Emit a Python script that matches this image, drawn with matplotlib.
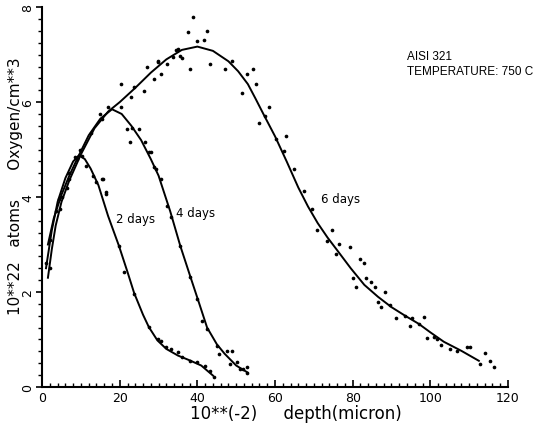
"""
Oxygen depth profiles in AISI 321 oxidised at 750 C
 - fitted curves for 2, 4 and 6 days
 - measured points scattered around each curve
"""
import matplotlib
matplotlib.use('Agg')
import matplotlib.pyplot as plt
from matplotlib.ticker import MultipleLocator

# depth in units of 10**(-2) micron, concentration in 10**22 atoms/cm**3
fit_2d_x = [1.0, 2.5, 4, 6, 8, 9.5, 11, 12.5, 14.5, 17, 19.8, 22, 23.7, 26, 27.5,
            29.7, 32, 35, 38, 41, 44]
fit_2d_y = [2.5, 3.3, 3.9, 4.4, 4.75, 4.88, 4.8, 4.6, 4.25, 3.6, 2.97, 2.42, 1.98, 1.52,
            1.26, 0.98, 0.8, 0.66, 0.56, 0.45, 0.24]

fit_4d_x = [1.5, 3, 5, 7, 9, 12, 15, 18, 20.5, 23, 25.5, 28, 30, 33, 35.6, 38.2, 40.5,
            42.5, 45, 47, 50, 53]
fit_4d_y = [3.0, 3.55, 4.05, 4.45, 4.8, 5.3, 5.65, 5.85, 5.75, 5.5, 5.2, 4.8, 4.45, 3.7,
            2.97, 2.32, 1.75, 1.25, 0.9, 0.7, 0.45, 0.3]

fit_6d_x = [1.5, 2.5, 3.5, 5, 7, 10, 13.5, 17, 20, 24, 28, 32, 36, 40, 44, 48, 50.5, 53,
            55, 57, 60, 63, 66, 68.5, 71, 73.5, 76, 79.5, 83, 86.5, 90, 93.5, 97, 100,
            103.5, 108, 112.5]
fit_6d_y = [2.3, 2.9, 3.4, 3.9, 4.35, 4.9, 5.45, 5.8, 6.0, 6.3, 6.62, 6.9, 7.1, 7.17,
            7.08, 6.86, 6.65, 6.38, 6.07, 5.75, 5.28, 4.75, 4.2, 3.8, 3.45, 3.15, 2.88,
            2.5, 2.15, 1.9, 1.68, 1.5, 1.33, 1.15, 0.95, 0.76, 0.55]

pts_2d_x = [1.0, 2.0, 3.5, 5.0, 7.0, 8.5, 9.7, 11.4, 13.0, 14.0, 15.5, 15.8, 16.5, 16.5,
            19.8, 21.1, 23.7, 27.5, 29.8, 30.5, 31.8, 33.1, 34.9, 36.1, 38.2, 39.9,
            42.0, 43.3, 44.3]
pts_2d_y = [2.6, 3.1, 3.7, 4.0, 4.5, 4.85, 5.0, 4.65, 4.44, 4.31, 4.38, 4.38, 4.06, 4.1,
            2.97, 2.42, 1.96, 1.26, 1.01, 0.97, 0.84, 0.8, 0.74, 0.63, 0.55, 0.53,
            0.44, 0.34, 0.21]

pts_4d_x = [4.5, 6.5, 9.0, 12.5, 15.0, 17.0, 21.9, 22.6, 23.2, 24.9, 26.5, 27.5, 28.0,
            28.8, 29.3, 30.5, 32.1, 33.1, 35.6, 38.2, 39.9, 41.2, 42.5, 45.0, 45.5,
            47.6, 48.3, 48.9, 50.1, 50.9, 51.7, 52.7, 52.9]
pts_4d_y = [3.75, 4.2, 4.8, 5.35, 5.75, 5.9, 5.43, 5.16, 5.45, 5.43, 5.16, 4.95, 4.95,
            4.63, 4.59, 4.38, 3.81, 3.58, 2.97, 2.32, 1.85, 1.39, 1.22, 0.86, 0.69,
            0.76, 0.48, 0.76, 0.53, 0.38, 0.38, 0.42, 0.29]

pts_6d_x = [2.0, 4.3, 6.8, 10.2, 15.3, 20.4, 20.4, 22.9, 23.7, 26.2, 27.0, 28.8, 29.8,
            29.8, 30.5, 32.3, 33.6, 34.4, 34.9, 35.6, 36.1, 37.6, 38.2, 38.9, 39.9,
            41.7, 42.5, 43.3, 47.1, 48.9, 51.4, 52.7, 54.2, 55.2, 56.0, 57.3, 58.5,
            60.3, 62.3, 62.8, 64.9, 67.4, 69.5, 70.7, 73.5, 74.6, 75.6, 76.6, 79.4,
            80.2, 80.9, 81.9, 83.0, 83.5, 84.7, 85.8, 86.5, 87.3, 88.3, 89.6, 91.1,
            93.4, 94.7, 95.4, 97.2, 98.5, 99.2, 101.0, 101.8, 102.8, 105.1, 106.9,
            109.4, 110.2, 112.7, 114.0, 115.3, 116.3]
pts_6d_y = [2.5, 3.96, 4.38, 4.86, 5.64, 5.89, 6.38, 6.1, 6.31, 6.23, 6.74, 6.48, 6.84,
            6.86, 6.59, 6.8, 6.95, 7.1, 7.12, 6.97, 6.92, 7.47, 6.69, 7.79, 7.28,
            7.31, 7.49, 6.8, 6.69, 6.86, 6.19, 6.59, 6.69, 6.38, 5.56, 5.71, 5.89,
            5.22, 4.97, 5.28, 4.59, 4.13, 3.75, 3.3, 3.07, 3.3, 2.8, 3.01, 2.95, 2.29,
            2.1, 2.69, 2.61, 2.29, 2.21, 2.1, 1.79, 1.68, 2.0, 1.73, 1.45, 1.49, 1.28,
            1.45, 1.33, 1.47, 1.03, 1.05, 1.01, 0.88, 0.8, 0.76, 0.84, 0.84, 0.48,
            0.72, 0.55, 0.42]

curve_labels = ['2 days', '4 days', '6 days']
label_x = [19.1, 34.4, 71.8]
label_y = [3.54, 3.68, 3.96]

NARROW = ['Liberation Sans']


def main():
    fig = plt.figure(figsize=(5.33, 4.31), dpi=100)
    ax = fig.add_axes([0.079, 0.1, 0.874, 0.881])

    for fx, fy in [(fit_2d_x, fit_2d_y), (fit_4d_x, fit_4d_y), (fit_6d_x, fit_6d_y)]:
        ax.plot(fx, fy, color='black', lw=1.4, solid_joinstyle='round')
    for px, py in [(pts_2d_x, pts_2d_y), (pts_4d_x, pts_4d_y), (pts_6d_x, pts_6d_y)]:
        ax.scatter(px, py, s=7, color='black', linewidths=0)

    for txt, tx, ty in zip(curve_labels, label_x, label_y):
        ax.text(tx, ty, txt, fontsize=8.5, va='center', ha='left')

    ax.text(94.0, 6.97, 'AISI 321', fontsize=8.5, va='center', family=NARROW)
    ax.text(94.0, 6.65, 'TEMPERATURE: 750 C', fontsize=8.5, va='center', family=NARROW)

    ax.set_xlim(0, 120)
    ax.set_ylim(0, 8)
    ax.spines['top'].set_visible(False)
    ax.spines['right'].set_visible(False)
    ax.spines['left'].set_linewidth(1.5)
    ax.spines['bottom'].set_linewidth(1.5)

    ax.xaxis.set_major_locator(MultipleLocator(20))
    ax.xaxis.set_minor_locator(MultipleLocator(2))
    ax.yaxis.set_major_locator(MultipleLocator(2))
    ax.yaxis.set_minor_locator(MultipleLocator(0.25))
    ax.tick_params(axis='x', which='major', direction='in', length=5, width=1.2,
                   labelsize=9, pad=3)
    ax.tick_params(axis='x', which='minor', direction='in', length=3, width=1.0)
    ax.tick_params(axis='y', which='major', direction='out', length=4, width=1.2,
                   labelsize=9, labelrotation=90, pad=1.5)
    ax.tick_params(axis='y', which='minor', direction='out', length=3, width=1.0)
    for lab in ax.get_yticklabels():
        lab.set_va('center')

    ax.set_xlabel('10**(-2)     depth(micron)', fontsize=12, labelpad=0)
    ax.xaxis.set_label_coords(0.545, -0.045)
    ax.set_ylabel('10**22   atoms      Oxygen/cm**3', fontsize=11, labelpad=2)
    ax.yaxis.set_label_coords(-0.042, 0.53)

    fig.savefig('out.png', dpi=100)


if __name__ == '__main__':
    main()
